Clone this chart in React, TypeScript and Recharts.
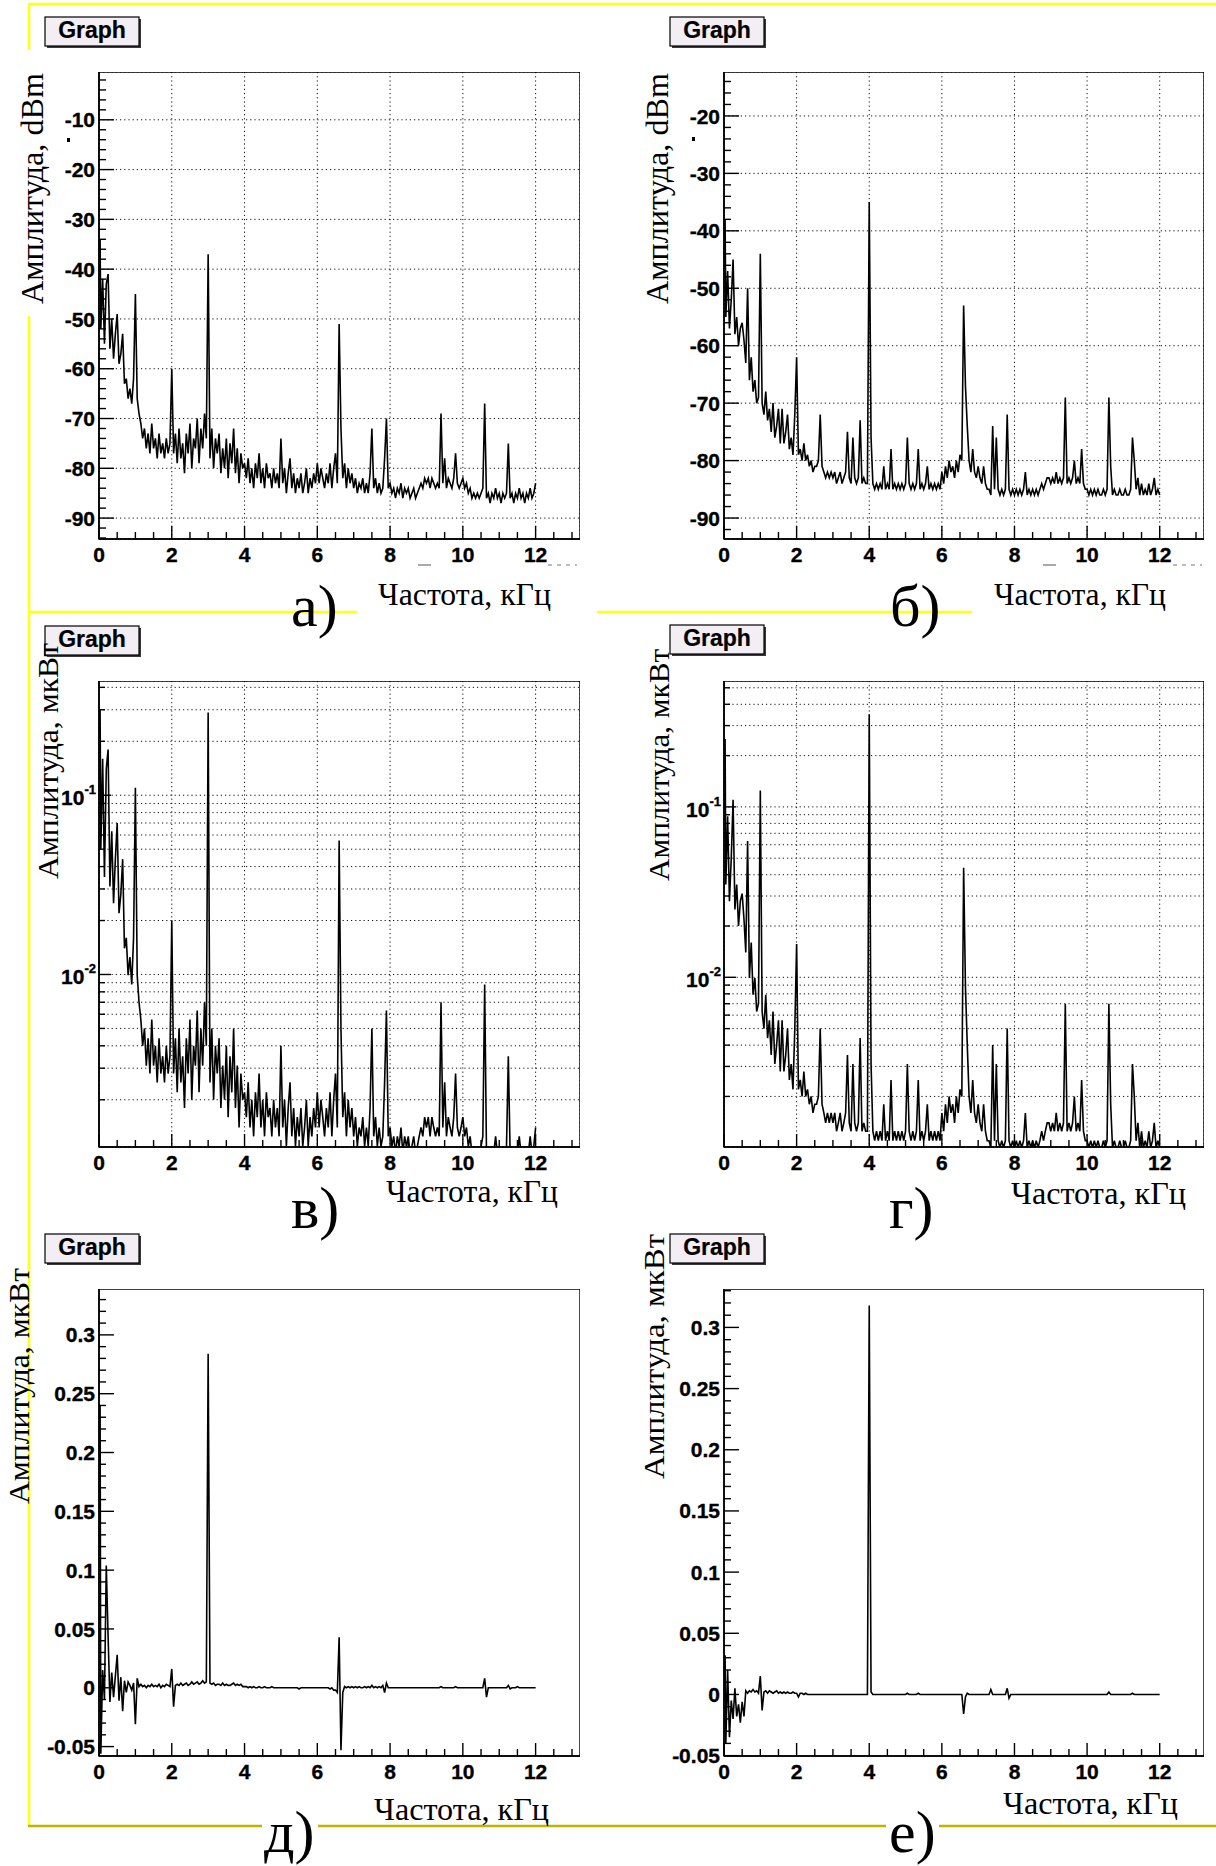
import React from 'react';
import { LineChart, Line, XAxis, YAxis, CartesianGrid, ReferenceArea } from 'recharts';

// frequency bins, kHz (0.05 kHz step; first bin sits just off the axis)
const freqKHz = [
  0.03, 0.05, 0.1, 0.15, 0.2, 0.25, 0.3, 0.35, 0.4, 0.45, 0.5, 0.55, 0.6, 0.65, 0.7, 0.75, 0.8, 0.85, 0.9, 0.95,
  1, 1.05, 1.1, 1.15, 1.2, 1.25, 1.3, 1.35, 1.4, 1.45, 1.5, 1.55, 1.6, 1.65, 1.7, 1.75, 1.8, 1.85, 1.9, 1.95,
  2, 2.05, 2.1, 2.15, 2.2, 2.25, 2.3, 2.35, 2.4, 2.45, 2.5, 2.55, 2.6, 2.65, 2.7, 2.75, 2.8, 2.85, 2.9, 2.95,
  3, 3.05, 3.1, 3.15, 3.2, 3.25, 3.3, 3.35, 3.4, 3.45, 3.5, 3.55, 3.6, 3.65, 3.7, 3.75, 3.8, 3.85, 3.9, 3.95,
  4, 4.05, 4.1, 4.15, 4.2, 4.25, 4.3, 4.35, 4.4, 4.45, 4.5, 4.55, 4.6, 4.65, 4.7, 4.75, 4.8, 4.85, 4.9, 4.95,
  5, 5.05, 5.1, 5.15, 5.2, 5.25, 5.3, 5.35, 5.4, 5.45, 5.5, 5.55, 5.6, 5.65, 5.7, 5.75, 5.8, 5.85, 5.9, 5.95,
  6, 6.05, 6.1, 6.15, 6.2, 6.25, 6.3, 6.35, 6.4, 6.45, 6.5, 6.55, 6.6, 6.65, 6.7, 6.75, 6.8, 6.85, 6.9, 6.95,
  7, 7.05, 7.1, 7.15, 7.2, 7.25, 7.3, 7.35, 7.4, 7.45, 7.5, 7.55, 7.6, 7.65, 7.7, 7.75, 7.8, 7.85, 7.9, 7.95,
  8, 8.05, 8.1, 8.15, 8.2, 8.25, 8.3, 8.35, 8.4, 8.45, 8.5, 8.55, 8.6, 8.65, 8.7, 8.75, 8.8, 8.85, 8.9, 8.95,
  9, 9.05, 9.1, 9.15, 9.2, 9.25, 9.3, 9.35, 9.4, 9.45, 9.5, 9.55, 9.6, 9.65, 9.7, 9.75, 9.8, 9.85, 9.9, 9.95,
  10, 10.05, 10.1, 10.15, 10.2, 10.25, 10.3, 10.35, 10.4, 10.45, 10.5, 10.55, 10.6, 10.65, 10.7, 10.75, 10.8, 10.85, 10.9, 10.95,
  11, 11.05, 11.1, 11.15, 11.2, 11.25, 11.3, 11.35, 11.4, 11.45, 11.5, 11.55, 11.6, 11.65, 11.7, 11.75, 11.8, 11.85, 11.9, 11.95,
  12,
];

// panel а: level, dBm
const levelA = [
  -34, -52, -42, -55, -43, -41, -56, -50, -58, -53, -49, -59, -57, -53, -63, -62, -66, -64, -67, -62,
  -45, -66, -69, -71, -74, -72, -76, -73, -77, -71, -76, -74, -78, -73, -77, -75, -78, -74, -77, -75,
  -60, -77, -73, -79, -72, -78, -75, -81, -73, -77, -71, -80, -74, -76, -70, -79, -72, -76, -69, -74,
  -37, -78, -72, -80, -74, -77, -73, -81, -76, -80, -74, -82, -75, -79, -72, -81, -76, -83, -77, -80,
  -79, -82, -78, -83, -80, -84, -79, -82, -77, -83, -80, -84, -79, -82, -81, -84, -80, -83, -81, -84,
  -74, -83, -80, -85, -81, -78, -84, -81, -85, -82, -84, -81, -85, -83, -80, -85, -82, -84, -81, -83,
  -79, -83, -80, -82, -84, -81, -83, -79, -84, -80, -77, -83, -51, -72, -82, -79, -84, -80, -83, -81,
  -84, -82, -85, -83, -84, -82, -85, -83, -85, -81, -72, -84, -82, -85, -83, -85, -84, -78, -70, -84,
  -83, -85, -84, -86, -84, -85, -83, -86, -84, -85, -84, -86, -85, -84, -86, -85, -84, -83, -84, -82,
  -83, -82, -84, -82, -83, -84, -83, -84, -69, -83, -78, -84, -82, -83, -84, -82, -77, -83, -84, -83,
  -82, -84, -83, -85, -84, -86, -85, -86, -85, -86, -85, -84, -67, -86, -85, -87, -85, -86, -84, -86,
  -85, -87, -85, -86, -85, -75, -86, -85, -87, -85, -86, -84, -86, -85, -87, -85, -86, -84, -86, -85,
  -83,
];

// panel б: level, dBm
const levelB = [
  -38, -55, -47, -57, -52, -45, -58, -55, -60, -57, -56, -59, -63, -50, -66, -62, -68, -66, -70, -69,
  -44, -70, -72, -68, -73, -71, -75, -70, -76, -74, -71, -77, -71, -77, -75, -72, -78, -76, -79, -72,
  -62, -79, -78, -80, -77, -80, -79, -81, -80, -82, -81, -81, -80, -72, -81, -82, -83, -82, -83, -82,
  -83, -82, -84, -83, -82, -84, -83, -82, -75, -83, -84, -76, -83, -84, -83, -73, -84, -83, -84, -84,
  -35, -76, -84, -85, -84, -85, -84, -85, -81, -85, -84, -85, -78, -85, -84, -85, -84, -85, -84, -85,
  -84, -76, -84, -85, -84, -85, -84, -78, -85, -84, -85, -84, -81, -85, -84, -85, -84, -85, -84, -85,
  -82, -84, -81, -83, -80, -82, -81, -83, -80, -82, -79, -80, -53, -67, -74, -80, -82, -78, -82, -83,
  -81, -83, -84, -81, -84, -85, -85, -86, -74, -85, -76, -85, -86, -85, -86, -85, -72, -85, -86, -85,
  -86, -85, -86, -85, -86, -85, -82, -86, -85, -86, -85, -86, -85, -86, -85, -84, -85, -84, -83, -83,
  -84, -83, -84, -82, -84, -83, -84, -83, -69, -84, -83, -84, -83, -80, -84, -83, -84, -78, -84, -85,
  -85, -86, -85, -86, -85, -86, -85, -86, -86, -85, -86, -85, -69, -81, -86, -85, -86, -86, -85, -86,
  -86, -85, -86, -86, -85, -76, -80, -85, -83, -86, -84, -86, -85, -86, -84, -86, -85, -83, -86, -85,
  -86,
];

// panel в: amplitude, мкВт (log axis)
const ampV = [
  0.30, 0.05, 0.16, 0.035, 0.14, 0.18, 0.031, 0.063, 0.025, 0.044, 0.07, 0.022, 0.028, 0.044, 0.014, 0.016, 0.0099, 0.0125, 0.0088, 0.016,
  0.11, 0.0099, 0.007, 0.0056, 0.004, 0.005, 0.0031, 0.0044, 0.0028, 0.0056, 0.0031, 0.004, 0.0025, 0.0044, 0.0028, 0.0035, 0.0025, 0.004, 0.0028, 0.0035,
  0.02, 0.0028, 0.0044, 0.0022, 0.005, 0.0025, 0.0035, 0.0018, 0.0044, 0.0028, 0.0056, 0.002, 0.004, 0.0031, 0.0063, 0.0022, 0.005, 0.0031, 0.007, 0.004,
  0.29, 0.0025, 0.005, 0.002, 0.004, 0.0028, 0.0044, 0.0018, 0.0031, 0.002, 0.004, 0.0016, 0.0035, 0.0022, 0.005, 0.0018, 0.0031, 0.0014, 0.0028, 0.002,
  0.0022, 0.0016, 0.0025, 0.0014, 0.002, 0.00125, 0.0022, 0.0016, 0.0028, 0.0014, 0.002, 0.00125, 0.0022, 0.0016, 0.0018, 0.00125, 0.002, 0.0014, 0.0018, 0.00125,
  0.004, 0.0014, 0.002, 0.0011, 0.0018, 0.0025, 0.00125, 0.0018, 0.0011, 0.0016, 0.00125, 0.0018, 0.0011, 0.0014, 0.002, 0.0011, 0.0016, 0.00125, 0.0018, 0.0014,
  0.0022, 0.0014, 0.002, 0.0016, 0.00125, 0.0018, 0.0014, 0.0022, 0.00125, 0.002, 0.0028, 0.0014, 0.056, 0.005, 0.0016, 0.0022, 0.00125, 0.002, 0.0014, 0.0018,
  0.00125, 0.0016, 0.0011, 0.0014, 0.00125, 0.0016, 0.0011, 0.0014, 0.0011, 0.0018, 0.005, 0.00125, 0.0016, 0.0011, 0.0014, 0.0011, 0.00125, 0.0025, 0.0063, 0.00125,
  0.0014, 0.0011, 0.00125, 0.001, 0.00125, 0.0011, 0.0014, 0.001, 0.00125, 0.0011, 0.00125, 0.001, 0.0011, 0.00125, 0.001, 0.0011, 0.00125, 0.0014, 0.00125, 0.0016,
  0.0014, 0.0016, 0.00125, 0.0016, 0.0014, 0.00125, 0.0014, 0.00125, 0.007, 0.0014, 0.0025, 0.00125, 0.0016, 0.0014, 0.00125, 0.0016, 0.0028, 0.0014, 0.00125, 0.0014,
  0.0016, 0.00125, 0.0014, 0.0011, 0.00125, 0.001, 0.0011, 0.001, 0.0011, 0.001, 0.0011, 0.00125, 0.0088, 0.001, 0.0011, 0.00088, 0.0011, 0.001, 0.00125, 0.001,
  0.0011, 0.00088, 0.0011, 0.001, 0.0011, 0.0035, 0.001, 0.0011, 0.00088, 0.0011, 0.001, 0.00125, 0.001, 0.0011, 0.00088, 0.0011, 0.001, 0.00125, 0.001, 0.0011,
  0.0014,
];

// panel г: amplitude, мкВт (log axis)
const ampG = [
  0.25, 0.035, 0.088, 0.028, 0.05, 0.11, 0.025, 0.035, 0.02, 0.028, 0.031, 0.022, 0.014, 0.063, 0.0099, 0.016, 0.0079, 0.0099, 0.0063, 0.007,
  0.125, 0.0063, 0.005, 0.0079, 0.0044, 0.0056, 0.0035, 0.0063, 0.0031, 0.004, 0.0056, 0.0028, 0.0056, 0.0028, 0.0035, 0.005, 0.0025, 0.0031, 0.0022, 0.005,
  0.0157, 0.0022, 0.0025, 0.002, 0.0028, 0.002, 0.0022, 0.0018, 0.002, 0.0016, 0.0018, 0.0018, 0.002, 0.005, 0.0018, 0.0016, 0.0014, 0.0016, 0.0014, 0.0016,
  0.0014, 0.0016, 0.00125, 0.0014, 0.0016, 0.00125, 0.0014, 0.0016, 0.0035, 0.0014, 0.00125, 0.0031, 0.0014, 0.00125, 0.0014, 0.0044, 0.00125, 0.0014, 0.00125, 0.00125,
  0.35, 0.0031, 0.00125, 0.0011, 0.00125, 0.0011, 0.00125, 0.0011, 0.0018, 0.0011, 0.00125, 0.0011, 0.0025, 0.0011, 0.00125, 0.0011, 0.00125, 0.0011, 0.00125, 0.0011,
  0.00125, 0.0031, 0.00125, 0.0011, 0.00125, 0.0011, 0.00125, 0.0025, 0.0011, 0.00125, 0.0011, 0.00125, 0.0018, 0.0011, 0.00125, 0.0011, 0.00125, 0.0011, 0.00125, 0.0011,
  0.0016, 0.00125, 0.0018, 0.0014, 0.002, 0.0016, 0.0018, 0.0014, 0.002, 0.0016, 0.0022, 0.002, 0.044, 0.0088, 0.004, 0.002, 0.0016, 0.0025, 0.0016, 0.0014,
  0.0018, 0.0014, 0.00125, 0.0018, 0.00125, 0.0011, 0.0011, 0.001, 0.004, 0.0011, 0.0031, 0.0011, 0.001, 0.0011, 0.001, 0.0011, 0.005, 0.0011, 0.001, 0.0011,
  0.001, 0.0011, 0.001, 0.0011, 0.001, 0.0011, 0.0016, 0.001, 0.0011, 0.001, 0.0011, 0.001, 0.0011, 0.001, 0.0011, 0.00125, 0.0011, 0.00125, 0.0014, 0.0014,
  0.00125, 0.0014, 0.00125, 0.0016, 0.00125, 0.0014, 0.00125, 0.0014, 0.007, 0.00125, 0.0014, 0.00125, 0.0014, 0.002, 0.00125, 0.0014, 0.00125, 0.0025, 0.00125, 0.0011,
  0.0011, 0.001, 0.0011, 0.001, 0.0011, 0.001, 0.0011, 0.001, 0.001, 0.0011, 0.001, 0.0011, 0.007, 0.0018, 0.001, 0.0011, 0.001, 0.001, 0.0011, 0.001,
  0.001, 0.0011, 0.001, 0.001, 0.0011, 0.0031, 0.002, 0.0011, 0.0014, 0.001, 0.00125, 0.001, 0.0011, 0.001, 0.00125, 0.001, 0.0011, 0.0014, 0.001, 0.0011,
  0.001,
];

// panel д: signed amplitude, мкВт
const signD = [
  0.24, -0.056, 0.015, -0.01, 0.104, 0.044, -0.012, 0.013, -0.008, 0.01, 0.028, -0.011, 0.009, -0.02, 0.006, -0.004, 0.005, 0.002, -0.002, 0.004,
  -0.031, 0.008, 0.001, 0.003, 0.001, 0.002, 0, 0.002, 0.001, 0.003, 0.001, 0.002, 0.001, 0.003, 0, 0.002, 0.001, 0.003, 0.002, 0.001,
  0.016, -0.016, 0.002, 0.003, 0.002, 0.004, 0.002, 0.003, 0.004, 0.002, 0.003, 0.005, 0.003, 0.004, 0.005, 0.003, 0.004, 0.006, 0.004, 0.005,
  0.284, 0.004, 0.003, 0.004, 0.002, 0.003, 0.003, 0.002, 0.004, 0.002, 0.003, 0.002, 0.002, 0.003, 0.004, 0.002, 0.003, 0.002, 0.003, 0.001,
  0.001, 0.001, 0, 0.001, 0, 0.001, 0, 0, 0.001, 0, 0, 0.001, 0, 0, 0, 0.001, 0, 0, 0, 0,
  0, 0, 0, 0, 0, 0, 0, 0, 0, 0, -0.001, 0, 0, 0, 0, 0, 0, 0, 0, 0,
  0, 0, 0, 0, 0, 0, 0, -0.001, 0, -0.002, -0.002, -0.004, 0.043, -0.053, -0.004, 0.001, 0, 0.001, 0, 0.001,
  0, 0.001, 0, 0.001, 0, 0, 0.001, 0, 0.001, 0, 0.002, 0, 0.001, 0, 0.001, 0, 0.002, -0.004, 0.004, 0,
  0, 0, 0, 0, 0, 0, 0, 0, 0, 0, 0, 0, 0, 0, 0, 0, 0, 0, 0, 0,
  0, 0, 0, 0, 0, 0, 0, 0, 0.001, 0, 0, 0, 0, 0, 0, 0, 0.001, 0, 0, 0,
  0, 0, 0, 0, 0, 0, 0, 0, 0, 0, 0, 0, 0.008, -0.008, 0, 0, 0, 0, 0, 0,
  0, 0, 0, 0, 0, 0.002, -0.001, 0, 0, 0, 0.001, 0, 0, 0, 0, 0, 0, 0, 0, 0,
  0,
];

// panel е: signed amplitude, мкВт
const signE = [
  0.032, -0.04, 0.02, -0.035, -0.005, -0.02, 0.005, -0.018, -0.008, -0.023, -0.006, -0.018, 0.003, 0.001, 0.003, 0.002, 0.004, 0.002, 0.003, 0.001,
  0.015, -0.013, 0.002, 0.003, 0.001, 0.003, 0.002, 0.001, 0.002, 0.003, 0.001, 0.002, 0.001, 0.002, 0.001, 0.002, 0.001, 0.001, 0.002, 0.001,
  0.001, -0.002, 0.001, 0.001, 0, 0.001, 0, 0, 0, 0, 0, 0, 0, 0, 0, 0, 0, 0, 0, 0,
  0, 0, 0, 0, 0, 0, 0, 0, 0, 0, 0, 0, 0, 0, 0, 0, 0, 0, 0, 0,
  0.318, 0.002, 0, 0, 0, 0, 0, 0, 0, 0, 0, 0, 0, 0, 0, 0, 0, 0, 0, 0,
  0, 0.001, 0, 0, 0, 0, 0, 0.001, 0, 0, 0, 0, 0, 0, 0, 0, 0, 0, 0, 0,
  0, 0, 0, 0, 0, 0, 0, 0, 0, 0, 0, 0, -0.016, -0.002, 0.001, 0, 0, 0, 0, 0,
  0, 0, 0, 0, 0, 0, 0, 0.004, 0, 0, 0, 0, 0, 0, 0, 0, 0.005, -0.003, 0, 0,
  0, 0, 0, 0, 0, 0, 0, 0, 0, 0, 0, 0, 0, 0, 0, 0, 0, 0, 0, 0,
  0, 0, 0, 0, 0, 0, 0, 0, 0, 0, 0, 0, 0, 0, 0, 0, 0, 0, 0, 0,
  0, 0, 0, 0, 0, 0, 0, 0, 0, 0, 0, 0, 0.002, 0, 0, 0, 0, 0, 0, 0,
  0, 0, 0, 0, 0, 0.001, 0, 0, 0, 0, 0, 0, 0, 0, 0, 0, 0, 0, 0, 0,
  0,
];

// axis ticks
const freqTicks = [0, 0.5, 1, 1.5, 2, 2.5, 3, 3.5, 4, 4.5, 5, 5.5, 6, 6.5, 7, 7.5, 8, 8.5, 9, 9.5, 10, 10.5, 11, 11.5, 12, 12.5, 13];
const freqLabels = [0, 2, 4, 6, 8, 10, 12];
const freqGrid = [2, 4, 6, 8, 10, 12];

const dbLabelsA = [-90, -80, -70, -60, -50, -40, -30, -20, -10];
const dbTicksA = [-94, -92, -90, -88, -86, -84, -82, -80, -78, -76, -74, -72, -70, -68, -66, -64, -62, -60, -58, -56, -54, -52, -50, -48, -46, -44, -42, -40, -38, -36, -34, -32, -30, -28, -26, -24, -22, -20, -18, -16, -14, -12, -10, -8, -6, -4, -2];
const dbLabelsB = [-90, -80, -70, -60, -50, -40, -30, -20];
const dbTicksB = [-92, -90, -88, -86, -84, -82, -80, -78, -76, -74, -72, -70, -68, -66, -64, -62, -60, -58, -56, -54, -52, -50, -48, -46, -44, -42, -40, -38, -36, -34, -32, -30, -28, -26, -24, -22, -20, -18, -16, -14];
const logDecades = [0.01, 0.1];
const logTicksV = [0.002, 0.003, 0.004, 0.005, 0.006, 0.007, 0.008, 0.009, 0.01, 0.02, 0.03, 0.04, 0.05, 0.06, 0.07, 0.08, 0.09, 0.1, 0.2, 0.3, 0.4];
const logTicksG = [0.002, 0.003, 0.004, 0.005, 0.006, 0.007, 0.008, 0.009, 0.01, 0.02, 0.03, 0.04, 0.05, 0.06, 0.07, 0.08, 0.09, 0.1, 0.2, 0.3, 0.4, 0.5];
const linLabels = [-0.05, 0, 0.05, 0.1, 0.15, 0.2, 0.25, 0.3];
const linTicks = [-0.05, -0.04, -0.03, -0.02, -0.01, 0, 0.01, 0.02, 0.03, 0.04, 0.05, 0.06, 0.07, 0.08, 0.09, 0.1, 0.11, 0.12, 0.13, 0.14, 0.15, 0.16, 0.17, 0.18, 0.19, 0.2, 0.21, 0.22, 0.23, 0.24, 0.25, 0.26, 0.27, 0.28, 0.29, 0.3, 0.31, 0.32, 0.33];

const rows = freqKHz.map((f, i) => ({
  f,
  a: levelA[i],
  b: levelB[i],
  v: ampV[i],
  g: ampG[i],
  d: signD[i],
  e: signE[i],
}));

const X_MAX = 13.22;
const sansBold = {
  fontFamily: '"Liberation Sans", Arial, Helvetica, sans-serif',
  fontWeight: 700,
  fontSize: 21,
  fill: '#000',
  stroke: '#000',
  strokeWidth: 0.35,
};
const serif = '"Liberation Serif", "Times New Roman", Times, serif';

const near = (list: number[], v: number) => list.some((m) => Math.abs(m - v) < 1e-9);

function XTick(props: any) {
  const { x, y, payload } = props;
  const v = payload.value;
  const major = near(freqLabels, v);
  return (
    <g>
      <line x1={x} x2={x} y1={y} y2={y - (major ? 13 : 7)} stroke="#000" strokeWidth={1.4} />
      {major && (
        <text x={x} y={y + 23} textAnchor="middle" style={sansBold}>
          {v}
        </text>
      )}
    </g>
  );
}

function makeYTick(labels: number[], log: boolean) {
  return (props: any) => {
    const { x, y, payload } = props;
    const v = payload.value;
    const major = near(labels, v);
    const len = log ? (major ? 12 : 6) : major ? 15 : 7;
    let label: React.ReactNode = null;
    if (major && log) {
      label = (
        <text x={x - 3} y={y + 10} textAnchor="end" style={sansBold}>
          10
          <tspan fontSize={13} dy={-11}>
            {v < 0.05 ? '-2' : '-1'}
          </tspan>
        </text>
      );
    } else if (major) {
      label = (
        <text x={x - 4} y={y} dy="0.36em" textAnchor="end" style={sansBold}>
          {String(v)}
        </text>
      );
    }
    return (
      <g>
        <line x1={x} x2={x + len} y1={y} y2={y} stroke="#000" strokeWidth={1.4} />
        {label}
      </g>
    );
  };
}

type Panel = {
  id: string;
  dataKey: string;
  left: number;
  top: number;
  width: number;
  height: number;
  domain: [number, number];
  log: boolean;
  ticks: number[];
  labels: number[];
  gridY: number[] | null;
};

const panels: Panel[] = [
  { id: 'a', dataKey: 'a', left: 99, top: 72, width: 481, height: 467, domain: [-94.2, -0.4], log: false, ticks: dbTicksA, labels: dbLabelsA, gridY: dbLabelsA },
  { id: 'b', dataKey: 'b', left: 724, top: 72, width: 480, height: 467, domain: [-93.65, -12.35], log: false, ticks: dbTicksB, labels: dbLabelsB, gridY: dbLabelsB },
  { id: 'v', dataKey: 'v', left: 99, top: 681, width: 481, height: 466, domain: [0.00109, 0.434], log: true, ticks: logTicksV, labels: logDecades, gridY: logTicksV },
  { id: 'g', dataKey: 'g', left: 724, top: 681, width: 480, height: 466, domain: [0.00101, 0.548], log: true, ticks: logTicksG, labels: logDecades, gridY: logTicksG },
  { id: 'd', dataKey: 'd', left: 99, top: 1289, width: 481, height: 467, domain: [-0.058, 0.339], log: false, ticks: linTicks, labels: linLabels, gridY: null },
  { id: 'e', dataKey: 'e', left: 724, top: 1289, width: 480, height: 467, domain: [-0.0503, 0.3314], log: false, ticks: linTicks, labels: linLabels, gridY: null },
];

const AXIS_W = 90;
const AXIS_H = 40;

function Spectrum({ p }: { p: Panel }) {
  const yScale = p.log ? 'log' : 'linear';
  return (
    <div style={{ position: 'absolute', left: p.left - AXIS_W, top: p.top }}>
      <LineChart width={p.width + AXIS_W} height={p.height + AXIS_H} data={rows} margin={{ top: 0, right: 0, bottom: 0, left: 0 }}>
        <XAxis
          xAxisId="main"
          dataKey="f"
          type="number"
          domain={[0, X_MAX]}
          allowDataOverflow
          ticks={freqTicks}
          interval={0}
          height={AXIS_H}
          tickSize={0}
          tickMargin={0}
          tickLine={false}
          axisLine={{ stroke: '#000', strokeWidth: 1.6 }}
          tick={(t: any) => <XTick {...t} />}
        />
        <YAxis
          yAxisId="main"
          type="number"
          scale={yScale}
          domain={p.domain}
          allowDataOverflow
          ticks={p.ticks}
          interval={0}
          width={AXIS_W}
          tickSize={0}
          tickMargin={0}
          tickLine={false}
          axisLine={{ stroke: '#000', strokeWidth: 1.6 }}
          tick={makeYTick(p.labels, p.log)}
        />
        <XAxis xAxisId="grid" dataKey="f" type="number" domain={[0, X_MAX]} allowDataOverflow ticks={freqGrid} interval={0} height={0} hide />
        <YAxis yAxisId="grid" type="number" scale={yScale} domain={p.domain} allowDataOverflow ticks={p.gridY || p.labels} interval={0} width={0} hide />
        {p.gridY && <CartesianGrid xAxisId="grid" yAxisId="grid" stroke="#111" strokeDasharray="1.2 3" strokeWidth={1} />}
        <ReferenceArea
          xAxisId="main"
          yAxisId="main"
          x1={0}
          x2={X_MAX}
          y1={p.domain[0]}
          y2={p.domain[1]}
          fill="none"
          fillOpacity={0}
          stroke="#000"
          strokeWidth={1.4}
          ifOverflow="visible"
        />
        <Line
          xAxisId="main"
          yAxisId="main"
          type="linear"
          dataKey={p.dataKey}
          stroke="#000"
          strokeWidth={1.6}
          dot={false}
          activeDot={false}
          isAnimationActive={false}
        />
      </LineChart>
    </div>
  );
}

function GraphBox({ x, y }: { x: number; y: number }) {
  return (
    <g>
      <rect x={x + 2} y={y + 2} width={94} height={29} fill="#3a3a3a" />
      <rect x={x} y={y} width={94} height={29} fill="#f3eef3" stroke="#000" strokeWidth={1.2} />
      <text x={x + 47} y={y + 21} textAnchor="middle" style={{ ...sansBold, fontSize: 23, strokeWidth: 0.2 }}>
        Graph
      </text>
    </g>
  );
}

function YTitle({ x, y, text, size, len }: { x: number; y: number; text: string; size: number; len: number }) {
  return (
    <text
      x={x}
      y={y}
      transform={`rotate(-90 ${x} ${y})`}
      textAnchor="end"
      fontFamily={serif}
      fontSize={size}
      textLength={len}
      lengthAdjust="spacingAndGlyphs"
      fill="#000"
    >
      {text}
    </text>
  );
}

function XTitle({ x, y, len }: { x: number; y: number; len: number }) {
  return (
    <text x={x} y={y} fontFamily={serif} fontSize={31} textLength={len} lengthAdjust="spacingAndGlyphs" fill="#000">
      Частота, кГц
    </text>
  );
}

function PanelLabel({ x, y, text }: { x: number; y: number; text: string }) {
  return (
    <text x={x} y={y} fontFamily={serif} fontSize={60} fill="#000">
      {text}
    </text>
  );
}

const YELLOW = '#ffff1a';
const OLIVE = '#bdb500';

export default function App() {
  return (
    <div style={{ position: 'absolute', left: 0, top: 0, width: 1216, height: 1866, background: '#fff', overflow: 'hidden' }}>
      {/* page frame lines */}
      <svg width={1216} height={1866} style={{ position: 'absolute', left: 0, top: 0 }}>
        <line x1={29} x2={1216} y1={4} y2={4} stroke={YELLOW} strokeWidth={2.6} />
        <line x1={29} x2={29} y1={3} y2={50} stroke={YELLOW} strokeWidth={2.6} />
        <line x1={29} x2={29} y1={316} y2={1826} stroke={YELLOW} strokeWidth={2.6} />
        <line x1={28} x2={357} y1={612} y2={612} stroke={YELLOW} strokeWidth={2.6} />
        <line x1={597} x2={972} y1={612} y2={612} stroke={YELLOW} strokeWidth={2.6} />
        <line x1={28} x2={1216} y1={1826} y2={1826} stroke={OLIVE} strokeWidth={2.6} />
        {/* leftovers of hidden axis exponent */}
        <line x1={418} x2={431} y1={565} y2={565} stroke="#555" strokeWidth={1} />
        <line x1={548} x2={577} y1={565} y2={565} stroke="#777" strokeWidth={1} strokeDasharray="4 5" />
        <line x1={1043} x2={1056} y1={565} y2={565} stroke="#555" strokeWidth={1} />
        <line x1={1173} x2={1202} y1={565} y2={565} stroke="#777" strokeWidth={1} strokeDasharray="4 5" />
        <rect x={67} y={138} width={3} height={4} fill="#000" />
        <rect x={692} y={137} width={3} height={4} fill="#000" />
      </svg>

      {panels.map((p) => (
        <Spectrum key={p.id} p={p} />
      ))}

      <svg width={1216} height={1866} style={{ position: 'absolute', left: 0, top: 0, pointerEvents: 'none' }}>
        <GraphBox x={45} y={17} />
        <GraphBox x={670} y={17} />
        <GraphBox x={45} y={626} />
        <GraphBox x={670} y={625} />
        <GraphBox x={45} y={1234} />
        <GraphBox x={670} y={1234} />

        <YTitle x={43} y={73} text="Амплитуда, dBm" size={31} len={231} />
        <YTitle x={668} y={73} text="Амплитуда, dBm" size={31} len={231} />
        <YTitle x={58} y={643} text="Амплитуда, мкВт" size={30} len={236} />
        <YTitle x={669} y={649} text="Амплитуда, мкВт" size={30} len={232} />
        <YTitle x={29} y={1268} text="Амплитуда, мкВт" size={30} len={236} />
        <YTitle x={664} y={1234} text="Амплитуда, мкВт" size={30} len={245} />

        <rect x={357} y={609} width={240} height={7} fill="#fff" />
        <XTitle x={378} y={605} len={173} />
        <XTitle x={994} y={605} len={172} />
        <XTitle x={386} y={1202} len={172} />
        <XTitle x={1011} y={1204} len={175} />
        <XTitle x={374} y={1820} len={175} />
        <XTitle x={1003} y={1814} len={175} />

        <rect x={262} y={1821} width={56} height={10} fill="#fff" />
        <rect x={886} y={1821} width={53} height={10} fill="#fff" />
        <PanelLabel x={291} y={626} text="а)" />
        <PanelLabel x={890} y={626} text="б)" />
        <PanelLabel x={291} y={1228} text="в)" />
        <PanelLabel x={889} y={1228} text="г)" />
        <PanelLabel x={264} y={1852} text="д)" />
        <PanelLabel x={889} y={1852} text="е)" />
      </svg>
    </div>
  );
}
